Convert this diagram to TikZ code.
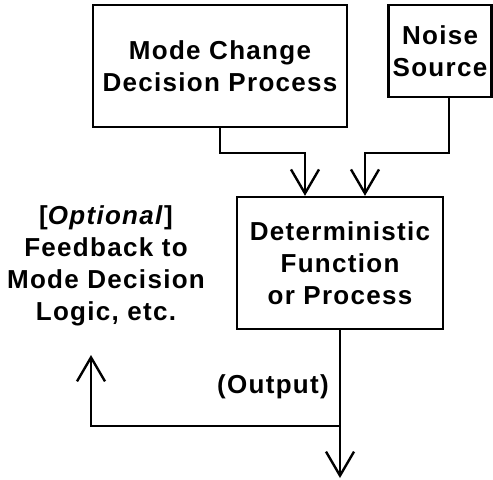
\documentclass[tikz,border=0pt]{standalone}
\usepackage{fontspec}
\setmainfont{Liberation Sans}[LetterSpace=5]
\usepackage{tikz}
\usetikzlibrary{arrows.meta, positioning, calc}
\tikzstyle{block} = [rectangle, draw, line width=1.2pt, align=center, inner sep=2pt, font=\bfseries\fontsize{13}{16}\selectfont]
\tikzstyle{note} = [align=center, inner sep=1pt, font=\bfseries\fontsize{13}{16}\selectfont]
\tikzstyle{arrow} = [line width=1.2pt, -{Straight Barb[length=12pt, width=14pt, line width=1.2pt]}]

\begin{document}
\begin{tikzpicture}[x=0.5pt, y=0.5pt]
    \useasboundingbox (0,0) rectangle (493,479);

    % Blocks
    \node[block, minimum width=127pt, minimum height=61pt] (mode) at (220, 413) {Mode Change\\Decision Process};
    \node[block, minimum width=50pt, minimum height=46pt] (noise) at (440, 428) {Noise\\Source};
    \node[block, minimum width=103pt, minimum height=66pt] (det) at (340, 216) {Deterministic\\Function\\or Process};

    % Feedback note
    \node[note] (fb) at (106, 213) {[\textit{Optional}]\\Feedback to\\Mode Decision\\Logic, etc.};

    % Points on the output line
    \coordinate (split) at (340, 53);
    \coordinate (out) at (340, 1);
    \coordinate (fbend) at (91, 124);

    % Inputs
    \draw[arrow] (mode.south) -- ++(0,-25) -| ([xshift=-17.5pt]det.north);
    \draw[arrow] ([xshift=4.5pt]noise.south) -- ++(0,-55) -| ([xshift=12.5pt]det.north);

    % Output and feedback
    \draw[arrow] (det.south) -- node[left, pos=0.38, note, xshift=-4pt] (outlbl) {(Output)} (out);
    \draw[arrow] (split) -| (fbend);

\end{tikzpicture}
\end{document}
